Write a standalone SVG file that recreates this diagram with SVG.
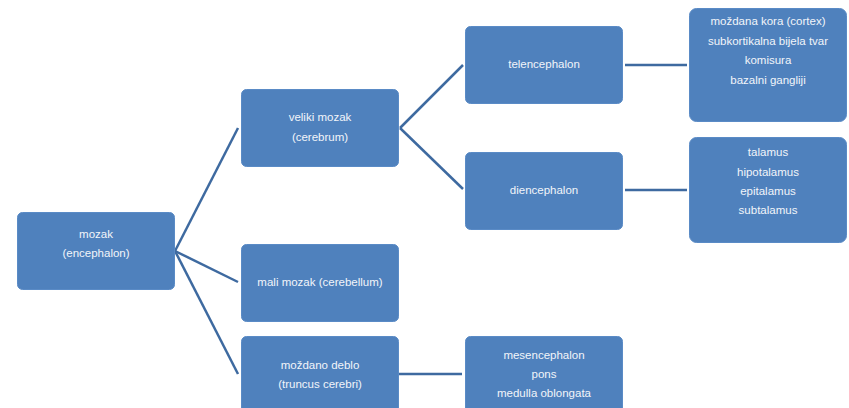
<svg xmlns="http://www.w3.org/2000/svg" width="849" height="408" viewBox="0 0 849 408">
<style>
.box{fill:#4F81BD;stroke:#5A8BC6;stroke-width:1}
.t{font-family:"Liberation Sans",Arial,sans-serif;font-size:11.5px;fill:#F2F5FA;text-anchor:middle}
.c{stroke:#3E6AA0;stroke-width:2.5;fill:none}
</style>
<rect width="849" height="408" fill="#FFFFFF"/>
<g id="connectors">
<line class="c" x1="175" y1="251" x2="238" y2="128"/>
<line class="c" x1="175" y1="251" x2="238" y2="282"/>
<line class="c" x1="175" y1="251" x2="238" y2="374"/>
<line class="c" x1="400" y1="128" x2="463" y2="65"/>
<line class="c" x1="400" y1="128" x2="463" y2="189"/>
<line class="c" x1="625" y1="65" x2="687" y2="65"/>
<line class="c" x1="625" y1="190" x2="687" y2="190"/>
<line class="c" x1="399" y1="374" x2="462" y2="374"/>
</g>
<g id="mozak">
<rect class="box" x="17.5" y="212.5" width="157" height="77" rx="5"/>
<text class="t" x="96" y="238">mozak</text>
<text class="t" x="96" y="257">(encephalon)</text>
</g>
<g id="veliki">
<rect class="box" x="241.5" y="89.5" width="157" height="77" rx="5"/>
<text class="t" x="320" y="121">veliki mozak</text>
<text class="t" x="320" y="141">(cerebrum)</text>
</g>
<g id="mali">
<rect class="box" x="241.5" y="244.5" width="157" height="77" rx="5"/>
<text class="t" x="320" y="286">mali mozak (cerebellum)</text>
</g>
<g id="deblo">
<rect class="box" x="241.5" y="336.5" width="157" height="77" rx="5"/>
<text class="t" x="320" y="369">moždano deblo</text>
<text class="t" x="320" y="388">(truncus cerebri)</text>
</g>
<g id="telencephalon">
<rect class="box" x="465.5" y="26.5" width="157" height="77" rx="5"/>
<text class="t" x="544" y="68">telencephalon</text>
</g>
<g id="diencephalon">
<rect class="box" x="465.5" y="152.5" width="157" height="77" rx="5"/>
<text class="t" x="544" y="194">diencephalon</text>
</g>
<g id="mesencephalon">
<rect class="box" x="465.5" y="336.5" width="157" height="77" rx="5"/>
<text class="t" x="544" y="359">mesencephalon</text>
<text class="t" x="544" y="378">pons</text>
<text class="t" x="544" y="397">medulla oblongata</text>
</g>
<g id="telen-parts">
<rect class="box" x="689.5" y="8.5" width="157" height="113" rx="7"/>
<text class="t" x="768" y="25">moždana kora (cortex)</text>
<text class="t" x="768" y="45">subkortikalna bijela tvar</text>
<text class="t" x="768" y="64">komisura</text>
<text class="t" x="768" y="84">bazalni gangliji</text>
</g>
<g id="dien-parts">
<rect class="box" x="689.5" y="137.5" width="157" height="105" rx="7"/>
<text class="t" x="768" y="156">talamus</text>
<text class="t" x="768" y="176">hipotalamus</text>
<text class="t" x="768" y="195">epitalamus</text>
<text class="t" x="768" y="214">subtalamus</text>
</g>
</svg>
